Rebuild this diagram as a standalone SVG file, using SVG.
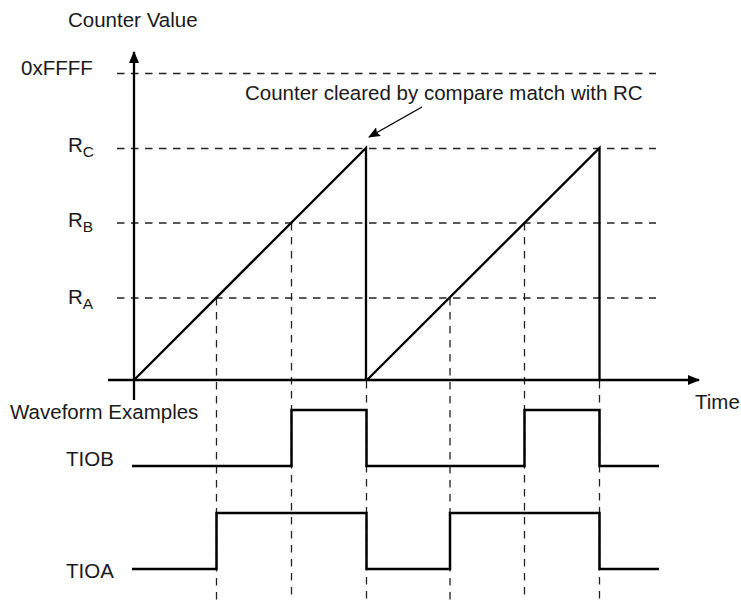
<svg xmlns="http://www.w3.org/2000/svg" width="741" height="601" viewBox="0 0 741 601">
<style>
  text { font-family: "Liberation Sans", Arial, sans-serif; font-size: 20.5px; fill: #1a1a1a; }
  .sub { font-size: 15.5px; }
  .dash { fill: none; stroke: #222; stroke-width: 1.3; stroke-dasharray: 7.5 6.5; }
  .axis { fill: none; stroke: #000; stroke-width: 2.3; }
  .wave { fill: none; stroke: #000; stroke-width: 2.5; stroke-linejoin: miter; }
  .thin { fill: none; stroke: #000; stroke-width: 1.4; }
</style>
<defs>
  <marker id="ah" viewBox="0 0 12 10" refX="11" refY="5" markerWidth="12" markerHeight="10" markerUnits="userSpaceOnUse" orient="auto">
    <path d="M0,0 L12,5 L0,10 Z" fill="#000"/>
  </marker>
  <marker id="ah2" viewBox="0 0 12 10" refX="11" refY="5" markerWidth="12" markerHeight="10" markerUnits="userSpaceOnUse" orient="auto">
    <path d="M0,0 L12,5 L0,10 L2,5 Z" fill="#000"/>
  </marker>
</defs>
<rect width="741" height="601" fill="#fff"/>

<g id="grid">
  <path class="dash" d="M117,73.5 H656 M117,148.5 H656 M117,223 H656 M117,298 H656"/>
  <path class="dash" d="M216.5,298 V601 M291.5,223 V601 M366.5,381 V601 M450,298 V601 M524.5,223 V601 M599.5,381 V601"/>
</g>

<g id="axes">
  <path class="axis" d="M134,400 V52" marker-end="url(#ah)"/>
  <path class="axis" d="M108,380 H699" marker-end="url(#ah)"/>
</g>

<g id="counter">
  <path class="axis" d="M134,380 L366,148 V380 M367,380 L599.5,148 V380"/>
</g>

<g id="waveforms">
  <path id="tiob" class="wave" d="M132,466 H291.5 V410 H366.5 V466 H524.5 V410 H599.5 V466 H659"/>
  <path id="tioa" class="wave" d="M132,569 H216.5 V513 H366.5 V569 H450 V513 H599.5 V569 H659"/>
</g>

<g id="connectors">
  <line class="thin" x1="422" y1="107" x2="369" y2="137" marker-end="url(#ah2)"/>
</g>

<g id="labels">
  <text x="68" y="27">Counter Value</text>
  <text x="21" y="75">0xFFFF</text>
  <text x="68" y="152">R<tspan class="sub" dy="5">C</tspan></text>
  <text x="68" y="227">R<tspan class="sub" dy="5">B</tspan></text>
  <text x="68" y="304">R<tspan class="sub" dy="5">A</tspan></text>
  <text x="245" y="100">Counter cleared by compare match with RC</text>
  <text x="10" y="419">Waveform Examples</text>
  <text x="695" y="409">Time</text>
  <text x="66" y="466">TIOB</text>
  <text x="66" y="578">TIOA</text>
</g>
</svg>
